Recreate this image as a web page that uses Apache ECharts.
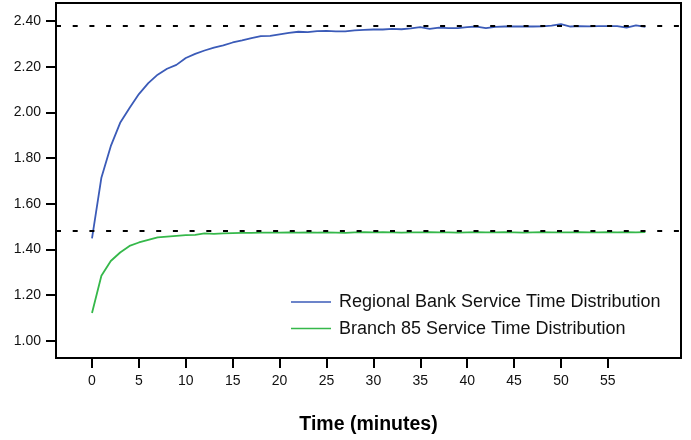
<!DOCTYPE html>
<html>
<head>
<meta charset="utf-8">
<script src="https://cdn.jsdelivr.net/npm/echarts@6/dist/echarts.min.js"></script>
<style>
  html, body { margin: 0; padding: 0; background: #fff; }
  #chart { width: 691px; height: 440px; }
</style>
</head>
<body>
<div id="chart"></div>
<script>
// Elapsed time in minutes
const minutes = [0, 1, 2, 3, 4, 5, 6, 7, 8, 9,
  10, 11, 12, 13, 14, 15, 16, 17, 18, 19,
  20, 21, 22, 23, 24, 25, 26, 27, 28, 29,
  30, 31, 32, 33, 34, 35, 36, 37, 38, 39,
  40, 41, 42, 43, 44, 45, 46, 47, 48, 49,
  50, 51, 52, 53, 54, 55, 56, 57, 58, 59];

// Mean service time, regional bank
const regionalBank = [1.448, 1.714, 1.852, 1.954, 2.019, 2.080, 2.128, 2.165, 2.191, 2.208,
  2.238, 2.256, 2.271, 2.284, 2.293, 2.306, 2.315, 2.325, 2.334, 2.335,
  2.342, 2.348, 2.353, 2.351, 2.356, 2.357, 2.355, 2.355, 2.359, 2.361,
  2.363, 2.363, 2.366, 2.364, 2.368, 2.373, 2.366, 2.371, 2.369, 2.369,
  2.373, 2.376, 2.369, 2.374, 2.376, 2.376, 2.376, 2.376, 2.377, 2.380,
  2.386, 2.376, 2.378, 2.377, 2.378, 2.378, 2.378, 2.371, 2.381, 2.374];

// Mean service time, branch 85
const branch85 = [1.121, 1.284, 1.349, 1.386, 1.415, 1.430, 1.441, 1.452, 1.456, 1.459,
  1.462, 1.463, 1.470, 1.468, 1.470, 1.471, 1.472, 1.472, 1.473, 1.473,
  1.473, 1.474, 1.473, 1.474, 1.473, 1.474, 1.473, 1.472, 1.474, 1.475,
  1.474, 1.475, 1.474, 1.473, 1.474, 1.474, 1.475, 1.474, 1.474, 1.473,
  1.474, 1.475, 1.474, 1.474, 1.475, 1.474, 1.473, 1.474, 1.475, 1.474,
  1.474, 1.474, 1.475, 1.474, 1.474, 1.475, 1.474, 1.475, 1.474, 1.475];

// Steady-state reference levels (dashed)
const steadyLevels = [2.381, 1.477];

// Axis tick positions
const xTicks = [0, 5, 10, 15, 20, 25, 30, 35, 40, 45, 50, 55];
const yTicks = [1.0, 1.2, 1.4, 1.6, 1.8, 2.0, 2.2, 2.4];

const seriesNames = ['Regional Bank Service Time Distribution', 'Branch 85 Service Time Distribution'];
const seriesColors = ['#3B5BB8', '#35B84A'];

const FONT = '"Liberation Sans", Arial, Helvetica, sans-serif';

const chart = echarts.init(document.getElementById('chart'), null, { renderer: 'canvas' });

const pairs = (ys) => minutes.map((t, i) => [t, ys[i]]);

chart.setOption({
  animation: false,
  backgroundColor: '#fff',
  grid: {
    left: 56, right: 10, top: 3, bottom: 81,
    show: true, borderColor: '#000', borderWidth: 2, backgroundColor: 'transparent'
  },
  legend: {
    orient: 'vertical',
    left: 286, top: 288,
    itemWidth: 40, itemHeight: 1.5, itemGap: 8.6,
    data: seriesNames.map((name) => ({ name, icon: 'rect' })),
    textStyle: { fontFamily: FONT, fontSize: 18, color: '#111', lineHeight: 18, padding: [0, 0, 0, 3] }
  },
  xAxis: {
    type: 'value',
    min: -3.84, max: 62.8,
    name: 'Time (minutes)',
    nameLocation: 'middle',
    nameGap: 57,
    nameTextStyle: { fontFamily: FONT, fontSize: 19.5, fontWeight: 'bold', color: '#000' },
    axisLine: { show: false, onZero: false },
    axisTick: { show: true, length: 10, customValues: xTicks, lineStyle: { color: '#000', width: 2 } },
    axisLabel: { customValues: xTicks, margin: 16, fontFamily: FONT, fontSize: 14, color: '#111' },
    splitLine: { show: false }
  },
  yAxis: {
    type: 'value',
    min: 0.924, max: 2.479,
    axisLine: { show: false, onZero: false },
    axisTick: { show: true, length: 10, customValues: yTicks, lineStyle: { color: '#000', width: 2 } },
    axisLabel: {
      customValues: yTicks, margin: 15, fontFamily: FONT, fontSize: 14, color: '#111',
      formatter: (v) => v.toFixed(2)
    },
    splitLine: { show: false }
  },
  series: [
    {
      name: seriesNames[0], type: 'line', data: pairs(regionalBank),
      symbol: 'none', color: seriesColors[0], lineStyle: { width: 1.8, color: seriesColors[0] }, z: 2
    },
    {
      name: seriesNames[1], type: 'line', data: pairs(branch85),
      symbol: 'none', color: seriesColors[1], lineStyle: { width: 1.8, color: seriesColors[1] }, z: 2
    },
    {
      type: 'line', data: [], z: 5, silent: true,
      markLine: {
        symbol: 'none', silent: true, label: { show: false },
        lineStyle: { color: '#000', width: 2, type: [5, 11.7] },
        data: steadyLevels.map((v) => ({ yAxis: v }))
      }
    }
  ]
});
</script>
</body>
</html>
